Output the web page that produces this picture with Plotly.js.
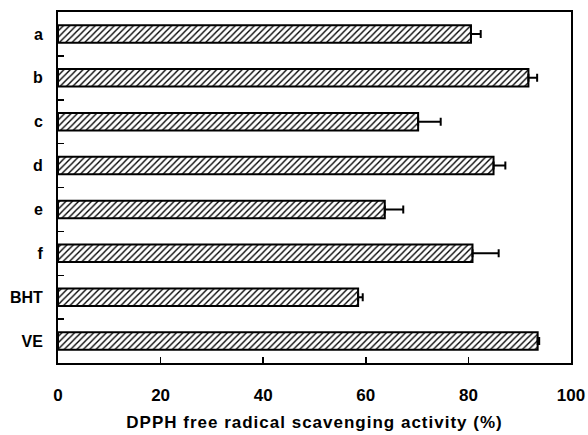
<!DOCTYPE html>
<html>
<head>
<meta charset="utf-8">
<script src="https://cdn.plot.ly/plotly-3.0.1.min.js"></script>
<style>
html,body{margin:0;padding:0;background:#fff;}
#chart{width:588px;height:435px;}
.g-xtitle text{letter-spacing:1px;}
</style>
</head>
<body>
<div id="chart"></div>
<script>
const categories = ["a", "b", "c", "d", "e", "f", "BHT", "VE"];
const activity = [80.5, 91.7, 70.2, 84.9, 63.7, 80.8, 58.5, 93.5];
const errors = [1.9, 1.7, 4.4, 2.3, 3.6, 5.1, 0.9, 0.3];
const xTicks = [0, 20, 40, 60, 80, 100];

const trace = {
  type: "bar",
  orientation: "h",
  y: categories,
  x: activity,
  width: 0.4,
  marker: {
    color: "white",
    line: {color: "black", width: 2},
    pattern: {shape: "/", fgcolor: "black", bgcolor: "white", size: 4.5, solidity: 0.3}
  },
  error_x: {type: "data", symmetric: false, array: errors, arrayminus: errors.map(() => 0),
            visible: true, color: "black", thickness: 2, width: 4},
  hoverinfo: "skip"
};

const layout = {
  width: 588, height: 435,
  margin: {l: 58, r: 17, t: 12, b: 72},
  paper_bgcolor: "white", plot_bgcolor: "white",
  showlegend: false,
  font: {family: "Liberation Sans, Arial, sans-serif", color: "black"},
  xaxis: {
    range: [0, 100],
    tickvals: xTicks,
    ticktext: xTicks.map(String),
    ticks: "inside", ticklen: 6, tickwidth: 1.5, tickcolor: "black",
    showline: true, linecolor: "black", linewidth: 2, mirror: true,
    showgrid: false, zeroline: false,
    ticklabelstandoff: 16,
    tickfont: {size: 17, weight: "bold"},
    title: {text: "DPPH free radical scavenging activity (%)", font: {size: 17, weight: "bold"}, standoff: 12}
  },
  yaxis: {
    type: "category",
    autorange: "reversed",
    tickson: "boundaries",
    ticks: "inside", ticklen: 6, tickwidth: 1.5, tickcolor: "black",
    showline: true, linecolor: "black", linewidth: 2, mirror: true,
    showgrid: false, zeroline: false,
    ticklabelstandoff: 10,
    tickfont: {size: 16, weight: "bold"}
  }
};

Plotly.newPlot("chart", [trace], layout, {displayModeBar: false, staticPlot: true});
</script>
</body>
</html>
